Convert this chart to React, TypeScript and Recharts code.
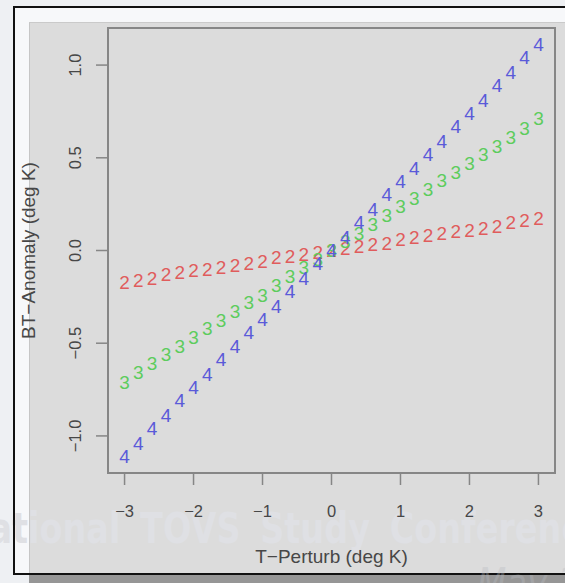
import { ScatterChart, Scatter, XAxis, YAxis, ReferenceArea, Label } from 'recharts'

/* ─── Data ─────────────────────────────────────────────────────── */

const perturb = [
  -3.0, -2.8, -2.6, -2.4, -2.2, -2.0, -1.8, -1.6, -1.4, -1.2, -1.0, -0.8, -0.6, -0.4, -0.2,
  0.0, 0.2, 0.4, 0.6, 0.8, 1.0, 1.2, 1.4, 1.6, 1.8, 2.0, 2.2, 2.4, 2.6, 2.8, 3.0,
]

const anomaly2 = [
  -0.17, -0.16, -0.15, -0.13, -0.12, -0.11, -0.1, -0.09, -0.08, -0.07, -0.06, -0.04, -0.03, -0.02, -0.01,
  0.0, 0.01, 0.02, 0.03, 0.04, 0.06, 0.07, 0.08, 0.09, 0.1, 0.11, 0.12, 0.13, 0.15, 0.16, 0.17,
]

const anomaly3 = [
  -0.71, -0.66, -0.61, -0.56, -0.52, -0.47, -0.42, -0.38, -0.33, -0.28, -0.24, -0.19, -0.14, -0.09, -0.05,
  0.0, 0.05, 0.09, 0.14, 0.19, 0.24, 0.28, 0.33, 0.38, 0.42, 0.47, 0.52, 0.56, 0.61, 0.66, 0.71,
]

const anomaly4 = [
  -1.11, -1.04, -0.96, -0.89, -0.81, -0.74, -0.67, -0.59, -0.52, -0.44, -0.37, -0.3, -0.22, -0.15, -0.07,
  0.0, 0.07, 0.15, 0.22, 0.3, 0.37, 0.44, 0.52, 0.59, 0.67, 0.74, 0.81, 0.89, 0.96, 1.04, 1.11,
]

const xTicks = [-3, -2, -1, 0, 1, 2, 3]
const yTicks = [-1, -0.5, 0, 0.5, 1]

const X_DOMAIN = [-3.24, 3.24]
const Y_DOMAIN = [-1.2, 1.2]

/* ─── Style ────────────────────────────────────────────────────── */

const FONT = '"Liberation Sans", Arial, sans-serif'
const TEXT = '#474747'
const BOX = '#868686'
const RED = '#e05c5c'
const GREEN = '#5dcc5d'
const BLUE = '#5a5ad9'

const toPoints = (ys: number[]) => perturb.map((x, i) => ({ x, y: ys[i] }))
const minus = (s: string) => s.replace('-', '\u2212')

function glyph(label: string, color: string) {
  return (props: any) => (
    <text
      x={props.cx}
      y={props.cy}
      textAnchor="middle"
      dominantBaseline="central"
      fill={color}
      fontSize={19}
      fontFamily={FONT}
    >
      {label}
    </text>
  )
}

function XTick({ x, y, payload }: any) {
  return (
    <text x={x} y={y + 24} textAnchor="middle" dominantBaseline="central" fill={TEXT} fontSize={16.5} fontFamily={FONT}>
      {minus(String(payload.value))}
    </text>
  )
}

function YTick({ x, y, payload }: any) {
  const lx = x - 19
  return (
    <text
      x={lx}
      y={y}
      transform={`rotate(-90, ${lx}, ${y})`}
      textAnchor="middle"
      dominantBaseline="central"
      fill={TEXT}
      fontSize={16.5}
      fontFamily={FONT}
    >
      {minus(payload.value.toFixed(1))}
    </text>
  )
}

function XTitle({ viewBox }: any) {
  return (
    <text x={viewBox.x + viewBox.width / 2} y={viewBox.y + 83} textAnchor="middle" dominantBaseline="central" fill={TEXT} fontSize={19} fontFamily={FONT}>
      T{'\u2212'}Perturb (deg K)
    </text>
  )
}

function YTitle({ viewBox }: any) {
  const cx = viewBox.x + 10
  const cy = viewBox.y + viewBox.height / 2
  return (
    <text x={cx} y={cy} transform={`rotate(-90, ${cx}, ${cy})`} textAnchor="middle" dominantBaseline="central" fill={TEXT} fontSize={19} fontFamily={FONT}>
      BT{'\u2212'}Anomaly (deg K)
    </text>
  )
}

/* ─── Slide backdrop ───────────────────────────────────────────── */

function Backdrop() {
  return (
    <>
      <div style={{ position: 'absolute', left: 13, top: 6, width: 600, height: 569, background: '#f7f8fa' }} />
      <div style={{ position: 'absolute', left: 29, top: 22, width: 600, height: 600, background: '#dcdcdc', borderLeft: '1px solid #c6c6c6', borderTop: '1px solid #cacaca' }} />
      <svg width={565} height={583} style={{ position: 'absolute', left: 0, top: 0 }}>
        <text x={-126} y={0} transform="translate(0, 543) scale(1, 1.27)" fill="#dfe0e4" fontSize={33.5} fontWeight="bold" wordSpacing={8} fontFamily='"DejaVu Sans", sans-serif'>
          International TOVS Study Conference
        </text>
      </svg>
      <div style={{ position: 'absolute', left: 13, top: 6, width: 600, height: 569, boxSizing: 'border-box', border: '2px solid #111' }} />
      <div style={{ position: 'absolute', left: 29, top: 575, width: 600, height: 20, background: '#969696' }} />
      <svg width={565} height={583} style={{ position: 'absolute', left: 0, top: 0 }}>
        <text x={477} y={0} transform="translate(0, 598) scale(1, 1.27)" fill="#b8bac0" fillOpacity={0.35} fontSize={34} fontStyle="italic" fontFamily='"DejaVu Sans", sans-serif'>
          May 2009
        </text>
      </svg>
    </>
  )
}

export default function App() {
  return (
    <div style={{ position: 'absolute', left: 0, top: 0, width: 565, height: 583, overflow: 'hidden', background: '#eef0f3' }}>
      <Backdrop />
      <div style={{ position: 'absolute', left: 0, top: 0 }}>
        <ScatterChart width={565} height={583} margin={{ top: 28, right: 10, bottom: 20, left: 18 }}>
          <XAxis
            dataKey="x"
            type="number"
            domain={X_DOMAIN}
            ticks={xTicks}
            allowDataOverflow
            axisLine={false}
            tickSize={12}
            tickLine={{ stroke: BOX, strokeWidth: 1.5 }}
            tick={XTick}
            height={90}
          >
            <Label content={XTitle} />
          </XAxis>
          <YAxis
            dataKey="y"
            type="number"
            domain={Y_DOMAIN}
            ticks={yTicks}
            allowDataOverflow
            axisLine={false}
            tickSize={12}
            tickLine={{ stroke: BOX, strokeWidth: 1.5 }}
            tick={YTick}
            width={90}
          >
            <Label content={YTitle} />
          </YAxis>
          <ReferenceArea x1={X_DOMAIN[0]} x2={X_DOMAIN[1]} y1={Y_DOMAIN[0]} y2={Y_DOMAIN[1]} fill="none" stroke={BOX} strokeWidth={2} />
          <Scatter name="2" data={toPoints(anomaly2)} shape={glyph('2', RED)} isAnimationActive={false} />
          <Scatter name="3" data={toPoints(anomaly3)} shape={glyph('3', GREEN)} isAnimationActive={false} />
          <Scatter name="4" data={toPoints(anomaly4)} shape={glyph('4', BLUE)} isAnimationActive={false} />
        </ScatterChart>
      </div>
    </div>
  )
}
